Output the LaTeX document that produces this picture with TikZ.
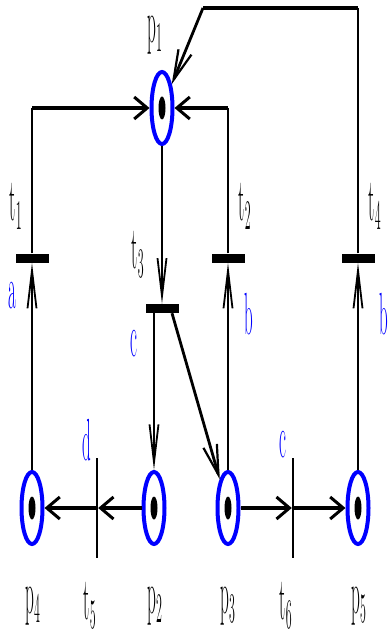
\documentclass[tikz,border=0pt]{standalone}
\usepackage{graphicx}
\usetikzlibrary{arrows.meta,shapes.geometric}
\definecolor{netblue}{HTML}{0000FF}
\newcommand{\tall}[1]{\scalebox{1}[3.5]{#1}}

\begin{document}
\begin{tikzpicture}[
  x=1pt,y=-1pt,
  font=\fontsize{17}{17}\selectfont,
  place/.style={ellipse,draw=netblue,line width=4pt,inner sep=0pt,
    minimum width=21pt,minimum height=72pt,
    path picture={\fill (path picture bounding box.center) ellipse (3.5pt and 11.5pt);}},
  hbar/.style={rectangle,fill=black,inner sep=0pt,minimum width=33pt,minimum height=9pt},
  vbar/.style={rectangle,fill=black,inner sep=0pt,minimum width=2pt,minimum height=100pt},
  vline/.style={line width=1.8pt},
  hline/.style={line width=4.5pt},
  vflow/.style={vline,-{Straight Barb[length=38pt,width=9pt,line width=1.8pt]}},
  hflow/.style={hline,-{Straight Barb[length=13pt,width=22pt,line width=3pt]}},
  dflow/.style={line width=2.8pt,-{Straight Barb[length=30pt,width=14pt,line width=2.2pt]}},
  netlabel/.style={inner sep=0pt},
  evlabel/.style={inner sep=0pt,text=netblue}
]
  \useasboundingbox (0,0) rectangle (390,636);

  % places
  \node[place] (p1) at (162,108) {};
  \node[place] (p4) at (32,508) {};
  \node[place] (p2) at (154,508) {};
  \node[place] (p3) at (228,508) {};
  \node[place] (p5) at (358,508) {};

  % transitions
  \node[hbar] (t1) at (32,258) {};
  \node[hbar] (t2) at (228,258) {};
  \node[hbar] (t4) at (358,258) {};
  \node[hbar] (t3) at (162,308.5) {};
  \node[vbar] (t5) at (97,508) {};
  \node[vbar] (t6) at (293,508) {};

  % names
  \node[netlabel] (lp1) at (155,35) {\tall{$\mathrm{p}_1$}};
  \node[netlabel] (lt1) at (16,206) {\tall{$\mathrm{t}_1$}};
  \node[netlabel] (lt2) at (245,206) {\tall{$\mathrm{t}_2$}};
  \node[netlabel] (lt4) at (375,206) {\tall{$\mathrm{t}_4$}};
  \node[netlabel] (lt3) at (138,254) {\tall{$\mathrm{t}_3$}};
  \node[netlabel] (lp4) at (33,606) {\tall{$\mathrm{p}_4$}};
  \node[netlabel] (lt5) at (90,605) {\tall{$\mathrm{t}_5$}};
  \node[netlabel] (lp2) at (155,606) {\tall{$\mathrm{p}_2$}};
  \node[netlabel] (lp3) at (228,606) {\tall{$\mathrm{p}_3$}};
  \node[netlabel] (lt6) at (286,605) {\tall{$\mathrm{t}_6$}};
  \node[netlabel] (lp5) at (359,606) {\tall{$\mathrm{p}_5$}};

  % events
  \node[evlabel] (ea) at (12,296) {\tall{a}};
  \node[evlabel] (eb) at (249,314) {\tall{b}};
  \node[evlabel] (ebb) at (384,314) {\tall{b}};
  \node[evlabel] (ec) at (134,344) {\tall{c}};
  \node[evlabel] (ed) at (87,440) {\tall{d}};
  \node[evlabel] (ecc) at (283,445) {\tall{c}};

  % arcs into p1
  \coordinate (t1top) at (t1 |- p1);
  \coordinate (t2top) at (t2 |- p1);
  \coordinate (bend) at (203,8);
  \coordinate (t4top) at (t4 |- bend);
  \draw[vline] (t1.north) -- (t1top);
  \draw[hflow] (t1top) -- (p1);
  \draw[vline] (t2.north) -- (t2top);
  \draw[hflow] (t2top) -- (p1);
  \draw[vline] (t4.north) -- (t4top);
  \draw[hline] (t4top) -- (bend);
  \draw[dflow] (bend) -- (p1);

  % arcs of t3
  \draw[vflow] (p1) -- (t3);
  \draw[vflow] (t3.south -| p2) -- (p2);
  \draw[dflow] ([xshift=10pt]t3.south) -- (p3);

  % arcs up to t1, t2, t4
  \draw[vflow] (p4) -- (t1);
  \draw[vflow] (p3) -- (t2);
  \draw[vflow] (p5) -- (t4);

  % bottom row
  \draw[hflow] (p2) -- (t5);
  \draw[hflow] (t5) -- (p4);
  \draw[hflow] (p3) -- (t6);
  \draw[hflow] (t6) -- (p5);
\end{tikzpicture}
\end{document}
